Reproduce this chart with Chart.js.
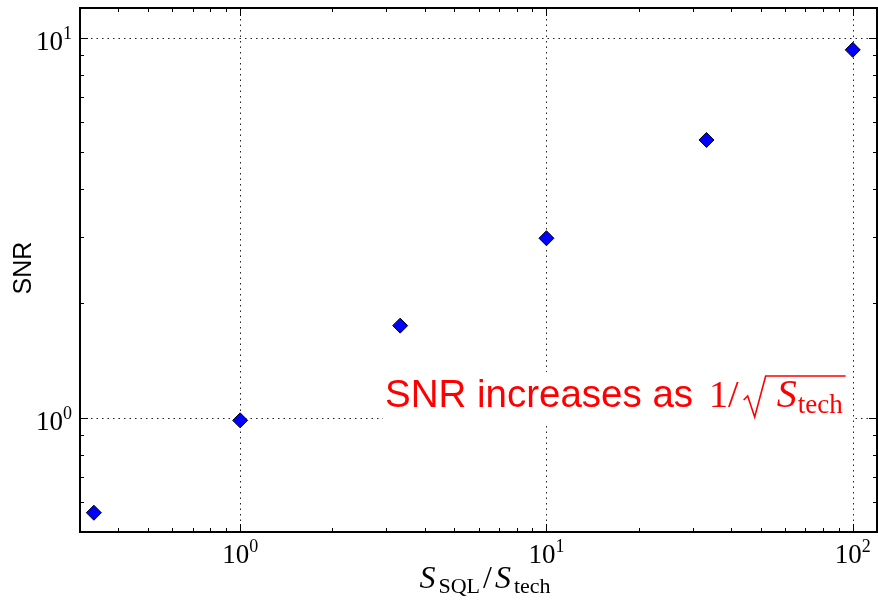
<!DOCTYPE html>
<html>
<head>
<meta charset="utf-8">
<script src="https://cdn.jsdelivr.net/npm/chart.js@4.4.1/dist/chart.umd.min.js"></script>
<style>
  html, body { margin: 0; padding: 0; background: #fff; }
  #wrap { width: 878px; height: 601px; position: relative; }
</style>
</head>
<body>
<div id="wrap"><canvas id="snrChart"></canvas></div>
<script>
// data
const sRatio = [0.333, 1, 3.33, 10, 33.3, 100];
const snr = [0.562, 0.984, 1.748, 2.97, 5.39, 9.31];

const xRange = [0.3, 120];
const yRange = [0.5, 12];

// tick positions
const xMajor = [1, 10, 100];
const yMajor = [1, 10];
const xMinor = [0.4, 0.5, 0.6, 0.7, 0.8, 0.9, 2, 3, 4, 5, 6, 7, 8, 9, 20, 30, 40, 50, 60, 70, 80, 90];
const yMinor = [0.6, 0.7, 0.8, 0.9, 2, 3, 4, 5, 6, 7, 8, 9];

const SERIF = '"Liberation Serif", "DejaVu Serif", serif';
const SANS = '"Liberation Sans", Arial, sans-serif';

function powerLabel(ctx, exp, x, y, align) {
    ctx.font = '27px ' + SERIF;
    const wb = ctx.measureText('10').width;
    ctx.font = '18px ' + SERIF;
    const ws = ctx.measureText(exp).width;
    const left = align === 'center' ? x - (wb + ws) / 2 : x - (wb + ws);
    ctx.font = '27px ' + SERIF;
    ctx.fillText('10', left, y);
    ctx.font = '18px ' + SERIF;
    ctx.fillText(exp, left + wb, y - 11);
}

// draws pieces [text, font, dy, gap] one after another, returns end x
function drawRun(ctx, pieces, x, y) {
    pieces.forEach(p => {
        ctx.font = p[1];
        ctx.fillText(p[0], x, y + (p[2] || 0));
        x += ctx.measureText(p[0]).width + (p[3] || 0);
    });
    return x;
}
function runWidth(ctx, pieces) {
    let w = 0;
    pieces.forEach(p => { ctx.font = p[1]; w += ctx.measureText(p[0]).width + (p[3] || 0); });
    return w;
}

const axesPlugin = {
    id: 'mplAxes',
    beforeDatasetsDraw(chart) {
        const { ctx, chartArea: a, scales: { x, y } } = chart;
        ctx.save();
        // dotted major grid
        ctx.strokeStyle = '#222';
        ctx.lineWidth = 1;
        ctx.setLineDash([1.5, 4]);
        xMajor.forEach(v => {
            const px = Math.round(x.getPixelForValue(v)) + 0.5;
            ctx.beginPath(); ctx.moveTo(px, a.top); ctx.lineTo(px, a.bottom); ctx.stroke();
        });
        yMajor.forEach(v => {
            const py = Math.round(y.getPixelForValue(v)) + 0.5;
            ctx.beginPath(); ctx.moveTo(a.left, py); ctx.lineTo(a.right, py); ctx.stroke();
        });
        ctx.setLineDash([]);

        // annotation with white box
        ctx.fillStyle = '#fff';
        ctx.fillRect(383, 372, 469, 50);
        ctx.fillStyle = '#ff0000';
        ctx.strokeStyle = '#ff0000';
        ctx.textBaseline = 'alphabetic';
        ctx.font = '38.5px ' + SANS;
        ctx.fillText('SNR increases as', 385, 407);
        let tx = 385 + ctx.measureText('SNR increases as').width + 16;
        tx = drawRun(ctx, [['1', '38px ' + SERIF], ['/', '38px ' + SERIF]], tx, 407);
        const sx = tx + 5;
        const sEnd = drawRun(ctx, [['S', 'italic 40px ' + SERIF, 0, 1], ['tech', '27px ' + SERIF, 6]], sx + 33, 407);
        ctx.lineWidth = 1.6;
        ctx.beginPath();
        ctx.moveTo(sx, 400);
        ctx.lineTo(sx + 4, 396);
        ctx.lineTo(sx + 11, 417);
        ctx.lineTo(sx + 22, 376);
        ctx.lineTo(sEnd + 3, 376);
        ctx.stroke();
        ctx.restore();
    },
    afterDraw(chart) {
        const { ctx, chartArea: a, scales: { x, y } } = chart;
        ctx.save();
        ctx.strokeStyle = '#000';
        ctx.lineWidth = 1;
        const tick = (vals, len) => {
            vals.forEach(v => {
                const px = Math.round(x.getPixelForValue(v)) + 0.5;
                ctx.beginPath();
                ctx.moveTo(px, a.bottom); ctx.lineTo(px, a.bottom - len);
                ctx.moveTo(px, a.top); ctx.lineTo(px, a.top + len);
                ctx.stroke();
            });
        };
        const ytick = (vals, len) => {
            vals.forEach(v => {
                const py = Math.round(y.getPixelForValue(v)) + 0.5;
                ctx.beginPath();
                ctx.moveTo(a.left, py); ctx.lineTo(a.left + len, py);
                ctx.moveTo(a.right, py); ctx.lineTo(a.right - len, py);
                ctx.stroke();
            });
        };
        tick(xMajor, 8); tick(xMinor, 4);
        ytick(yMajor, 8); ytick(yMinor, 4);

        // frame
        ctx.lineWidth = 2;
        ctx.strokeRect(a.left, a.top, a.right - a.left, a.bottom - a.top);

        // tick labels
        ctx.fillStyle = '#000';
        ctx.textBaseline = 'alphabetic';
        ctx.textAlign = 'left';
        xMajor.forEach(v => powerLabel(ctx, String(Math.round(Math.log10(v))), x.getPixelForValue(v), a.bottom + 31, 'center'));
        yMajor.forEach(v => powerLabel(ctx, String(Math.round(Math.log10(v))), a.left - 8, y.getPixelForValue(v) + 12, 'right'));

        // x title: S_SQL / S_tech
        const title = [
            ['S', 'italic 32px ' + SERIF, 0, 3],
            ['SQL', '22px ' + SERIF, 5, 3],
            ['/', '32px ' + SERIF, 0, 3],
            ['S', 'italic 32px ' + SERIF, 0, 3],
            ['tech', '22px ' + SERIF, 5]
        ];
        const tw = runWidth(ctx, title);
        drawRun(ctx, title, 485 - tw / 2, 588);

        // y title
        ctx.translate(22, 268);
        ctx.rotate(-Math.PI / 2);
        ctx.textAlign = 'center';
        ctx.font = '25px ' + SANS;
        ctx.fillText('SNR', 0, 9);
        ctx.restore();
    }
};

new Chart(document.getElementById('snrChart').getContext('2d'), {
    type: 'scatter',
    data: {
        datasets: [{
            data: sRatio.map((v, i) => ({ x: v, y: snr[i] })),
            pointStyle: 'rectRot',
            pointRadius: 7.5,
            pointHoverRadius: 7.5,
            backgroundColor: '#0000ff',
            borderColor: '#000000',
            borderWidth: 1
        }]
    },
    options: {
        responsive: true,
        maintainAspectRatio: false,
        animation: false,
        layout: { autoPadding: false, padding: { left: 80, top: 8, right: 1, bottom: 69 } },
        scales: {
            x: { type: 'logarithmic', min: xRange[0], max: xRange[1], display: false },
            y: { type: 'logarithmic', min: yRange[0], max: yRange[1], display: false }
        },
        plugins: {
            legend: { display: false },
            tooltip: { enabled: false }
        }
    },
    plugins: [axesPlugin]
});
</script>
</body>
</html>
